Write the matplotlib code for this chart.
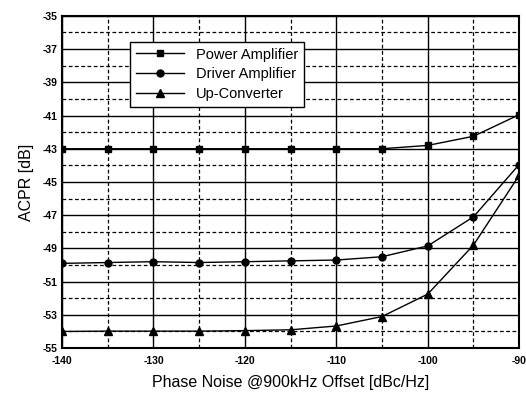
import numpy as np
import matplotlib
matplotlib.use('Agg')
import matplotlib.pyplot as plt
from matplotlib.ticker import MultipleLocator

# data
phase_noise = [-140, -135, -130, -125, -120, -115, -110, -105, -100, -95, -90]
power_amp = [-43.0, -43.0, -43.0, -43.0, -43.0, -43.0, -43.0, -43.0, -42.8, -42.25, -40.95]
driver_amp = [-49.9, -49.85, -49.8, -49.85, -49.8, -49.75, -49.7, -49.5, -48.85, -47.1, -43.95]
up_conv = [-54.0, -53.98, -53.98, -53.98, -53.95, -53.9, -53.67, -53.1, -51.75, -48.8, -44.6]

plt.rcParams['font.family'] = ['Liberation Sans', 'DejaVu Sans']
plt.rcParams['axes.unicode_minus'] = False

fig = plt.figure(figsize=(5.26, 3.96), dpi=100)
ax = fig.add_axes([0.118, 0.121, 0.869, 0.839])

ax.plot(phase_noise, power_amp, 'k-', marker='s', ms=5, lw=1, label='Power Amplifier')
ax.plot(phase_noise, driver_amp, 'k-', marker='o', ms=5, lw=1, label='Driver Amplifier')
ax.plot(phase_noise, up_conv, 'k-', marker='^', ms=6, lw=1, label='Up-Converter')

ax.set_xlim(-140, -90)
ax.set_ylim(-55, -35)
ax.xaxis.set_major_locator(MultipleLocator(10))
ax.xaxis.set_minor_locator(MultipleLocator(5))
ax.yaxis.set_major_locator(MultipleLocator(2))
ax.yaxis.set_minor_locator(MultipleLocator(1))
ax.set_yticks(np.arange(-55, -34, 2))

ax.grid(which='major', color='black', linestyle='-', linewidth=1.0)
ax.grid(which='minor', color='black', linestyle=(0, (3, 2)), linewidth=0.9)
ax.set_axisbelow(True)
ax.tick_params(which='both', length=0)
ax.tick_params(labelsize=7.5)
ax.tick_params(axis='x', pad=6)
for lab in ax.get_xticklabels() + ax.get_yticklabels():
    lab.set_fontweight('bold')
for s in ax.spines.values():
    s.set_linewidth(1.5)

ax.set_xlabel('Phase Noise @900kHz Offset [dBc/Hz]', fontsize=11.5, labelpad=6)
ax.set_ylabel('ACPR [dB]', fontsize=11.5, labelpad=6)

leg = ax.legend(loc='upper left', bbox_to_anchor=(0.149, 0.922), borderaxespad=0,
                fontsize=10.5, frameon=True, fancybox=False, edgecolor='black',
                framealpha=1, handlelength=3.3, borderpad=0.4, labelspacing=0.4)
leg.get_frame().set_linewidth(1.0)

fig.savefig('out.png', dpi=100)
